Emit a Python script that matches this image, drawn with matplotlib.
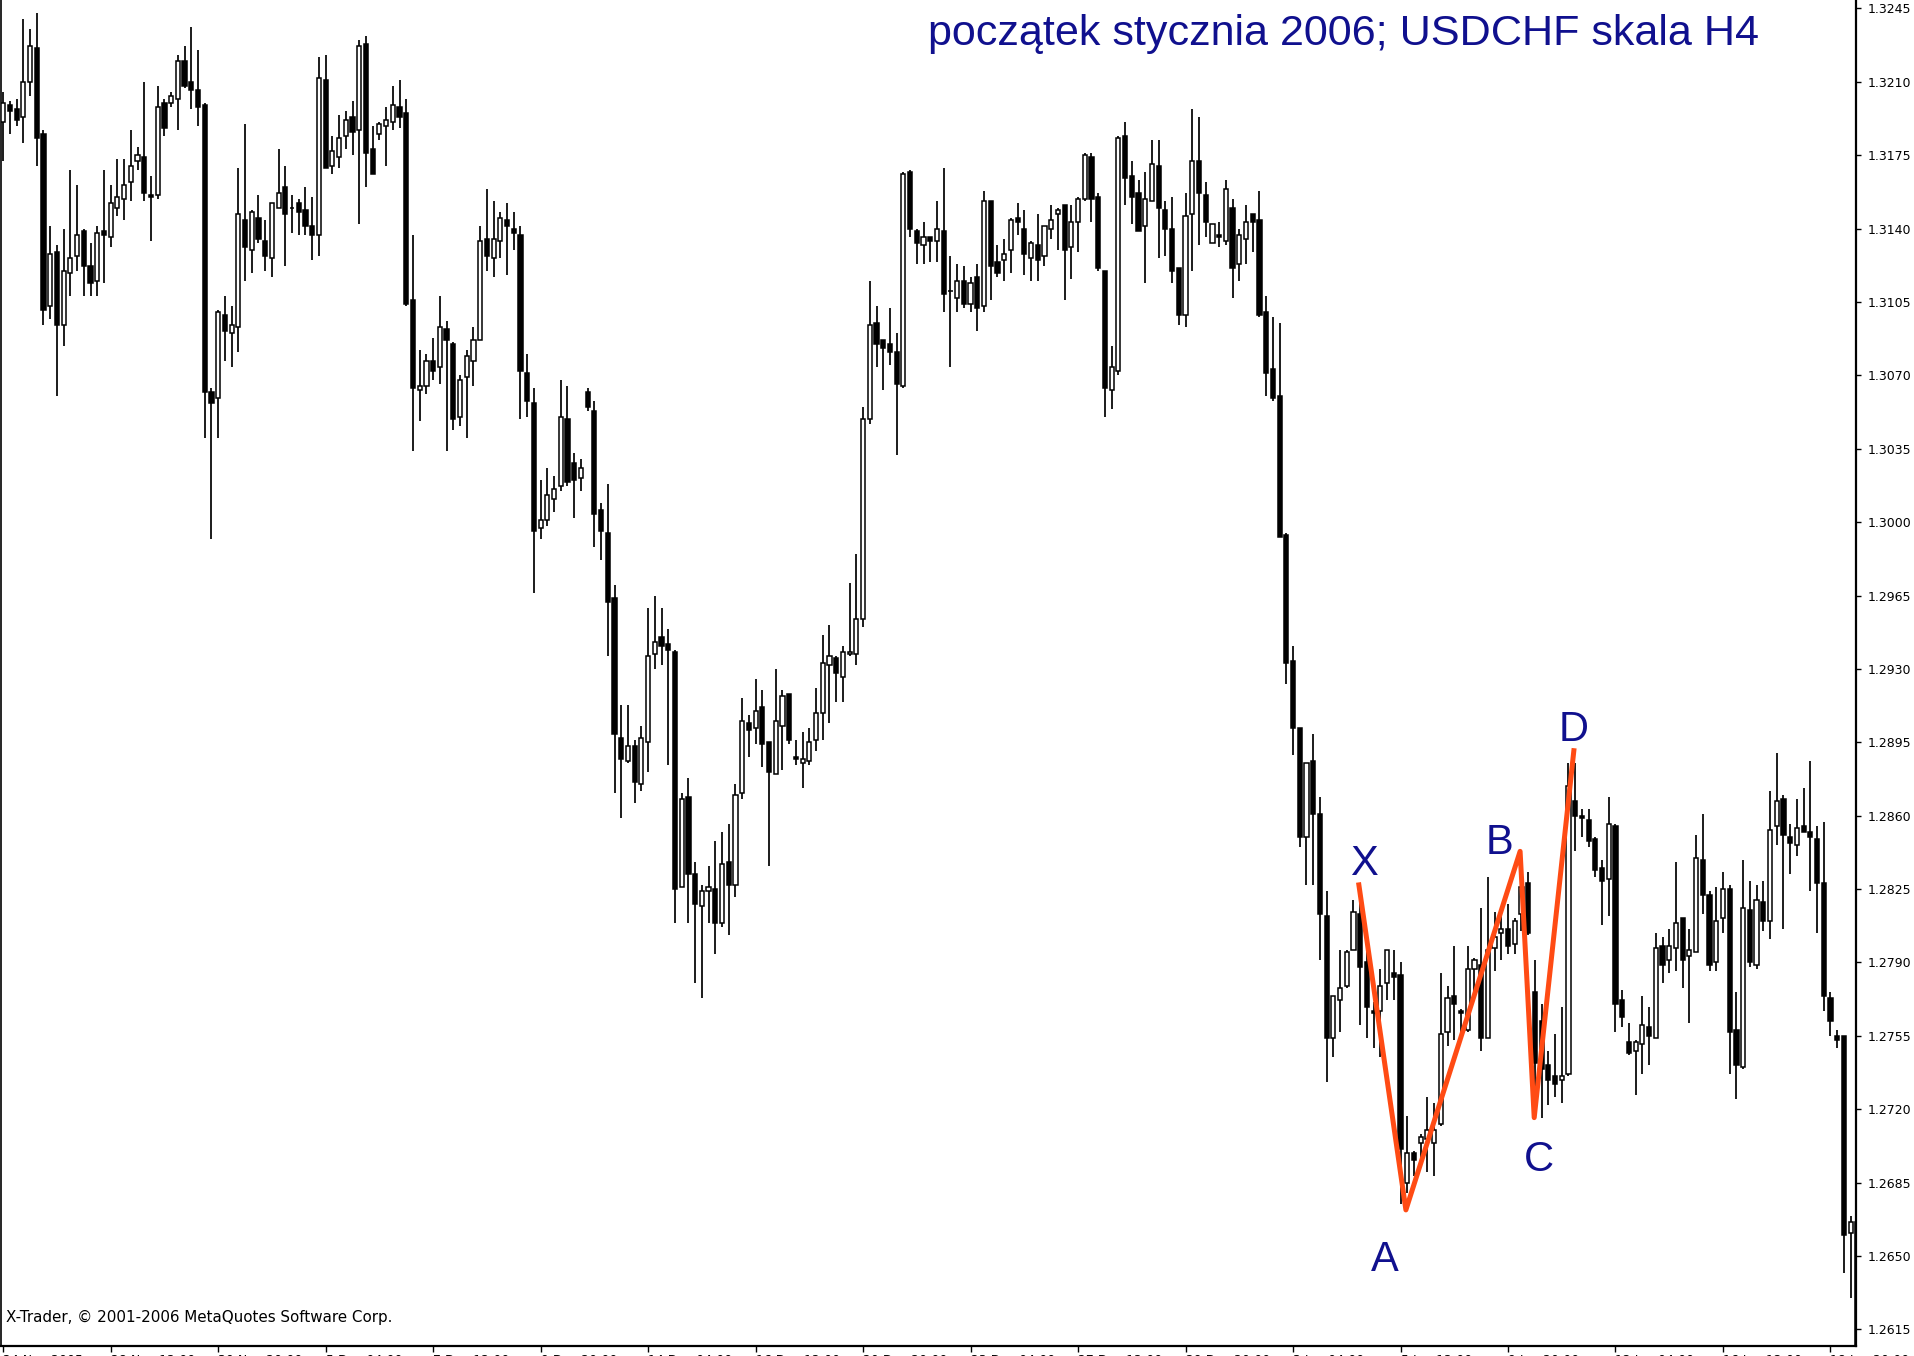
import numpy as np
import matplotlib
matplotlib.use("Agg")
import matplotlib.pyplot as plt

# USDCHF H4 candles
opens = [
    1.3191, 1.3199, 1.3197, 1.3193, 1.3210, 1.3226, 1.3185, 1.3103, 1.3129, 1.3094,
    1.3119, 1.3127, 1.3139, 1.3122, 1.3115, 1.3139, 1.3136, 1.3150, 1.3154, 1.3162,
    1.3172, 1.3174, 1.3156, 1.3156, 1.3200, 1.3200, 1.3202, 1.3220, 1.3210, 1.3206,
    1.3199, 1.3062, 1.3059, 1.3099, 1.3090, 1.3093, 1.3144, 1.3130, 1.3145, 1.3134,
    1.3126, 1.3150, 1.3160, 1.3150, 1.3152, 1.3149, 1.3141, 1.3137, 1.3211, 1.3170,
    1.3174, 1.3184, 1.3193, 1.3187, 1.3228, 1.3178, 1.3185, 1.3189, 1.3191, 1.3198,
    1.3195, 1.3106, 1.3063, 1.3065, 1.3077, 1.3074, 1.3092, 1.3085, 1.3050, 1.3069,
    1.3077, 1.3087, 1.3135, 1.3126, 1.3134, 1.3144, 1.3140, 1.3137, 1.3071, 1.3057,
    1.2997, 1.3001, 1.3011, 1.3017, 1.3049, 1.3028, 1.3021, 1.3062, 1.3053, 1.3006,
    1.2995, 1.2964, 1.2897, 1.2886, 1.2893, 1.2875, 1.2895, 1.2937, 1.2945, 1.2942,
    1.2938, 1.2826, 1.2869, 1.2832, 1.2817, 1.2824, 1.2825, 1.2809, 1.2838, 1.2827,
    1.2871, 1.2904, 1.2902, 1.2912, 1.2895, 1.2880, 1.2903, 1.2918, 1.2888, 1.2885,
    1.2886, 1.2896, 1.2909, 1.2932, 1.2935, 1.2926, 1.2937, 1.2937, 1.2954, 1.3049,
    1.3095, 1.3087, 1.3085, 1.3081, 1.3065, 1.3167, 1.3139, 1.3132, 1.3136, 1.3134,
    1.3139, 1.3110, 1.3107, 1.3115, 1.3104, 1.3117, 1.3103, 1.3153, 1.3124, 1.3125,
    1.3130, 1.3145, 1.3140, 1.3126, 1.3132, 1.3127, 1.3140, 1.3147, 1.3151, 1.3131,
    1.3143, 1.3154, 1.3174, 1.3155, 1.3120, 1.3063, 1.3072, 1.3184, 1.3165, 1.3157,
    1.3141, 1.3153, 1.3170, 1.3149, 1.3140, 1.3121, 1.3099, 1.3147, 1.3172, 1.3156,
    1.3133, 1.3137, 1.3134, 1.3150, 1.3123, 1.3135, 1.3147, 1.3144, 1.3100, 1.3073,
    1.3060, 1.2994, 1.2934, 1.2902, 1.2850, 1.2886, 1.2861, 1.2812, 1.2754, 1.2772,
    1.2779, 1.2796, 1.2813, 1.2790, 1.2767, 1.2767, 1.2780, 1.2785, 1.2784, 1.2685,
    1.2699, 1.2704, 1.2706, 1.2704, 1.2713, 1.2757, 1.2774, 1.2767, 1.2758, 1.2787,
    1.2789, 1.2754, 1.2797, 1.2804, 1.2806, 1.2799, 1.2813, 1.2828, 1.2776, 1.2762,
    1.2741, 1.2736, 1.2734, 1.2737, 1.2867, 1.2860, 1.2858, 1.2849, 1.2835, 1.2830,
    1.2855, 1.2772, 1.2752, 1.2748, 1.2751, 1.2759, 1.2754, 1.2798, 1.2791, 1.2797,
    1.2811, 1.2793, 1.2795, 1.2839, 1.2822, 1.2790, 1.2811, 1.2825, 1.2758, 1.2740,
    1.2815, 1.2789, 1.2819, 1.2810, 1.2855, 1.2868, 1.2850, 1.2846, 1.2855, 1.2852,
    1.2849, 1.2828, 1.2773, 1.2755, 1.2755, 1.2661, 1.2666,
]
highs = [
    1.3205, 1.3201, 1.3202, 1.3240, 1.3235, 1.3243, 1.3187, 1.3141, 1.3132, 1.3140,
    1.3168, 1.3161, 1.3140, 1.3133, 1.3141, 1.3168, 1.3161, 1.3173, 1.3173, 1.3187,
    1.3179, 1.3210, 1.3165, 1.3208, 1.3202, 1.3205, 1.3223, 1.3227, 1.3236, 1.3225,
    1.3200, 1.3064, 1.3101, 1.3108, 1.3103, 1.3169, 1.3190, 1.3149, 1.3156, 1.3144,
    1.3152, 1.3178, 1.3170, 1.3156, 1.3154, 1.3160, 1.3155, 1.3222, 1.3223, 1.3184,
    1.3194, 1.3196, 1.3201, 1.3230, 1.3232, 1.3189, 1.3191, 1.3198, 1.3208, 1.3211,
    1.3202, 1.3137, 1.3082, 1.3080, 1.3088, 1.3108, 1.3096, 1.3086, 1.3070, 1.3082,
    1.3093, 1.3141, 1.3159, 1.3153, 1.3148, 1.3152, 1.3148, 1.3141, 1.3080, 1.3064,
    1.3020, 1.3026, 1.3022, 1.3068, 1.3065, 1.3033, 1.3030, 1.3064, 1.3058, 1.3009,
    1.3018, 1.2970, 1.2913, 1.2913, 1.2896, 1.2903, 1.2959, 1.2965, 1.2959, 1.2949,
    1.2939, 1.2871, 1.2878, 1.2838, 1.2827, 1.2836, 1.2848, 1.2852, 1.2856, 1.2875,
    1.2916, 1.2908, 1.2925, 1.2920, 1.2895, 1.2930, 1.2920, 1.2918, 1.2896, 1.2900,
    1.2902, 1.2921, 1.2946, 1.2951, 1.2936, 1.2941, 1.2971, 1.2985, 1.3055, 1.3115,
    1.3103, 1.3087, 1.3102, 1.3090, 1.3167, 1.3168, 1.3140, 1.3143, 1.3136, 1.3153,
    1.3169, 1.3127, 1.3123, 1.3122, 1.3117, 1.3123, 1.3158, 1.3153, 1.3132, 1.3135,
    1.3145, 1.3152, 1.3149, 1.3134, 1.3147, 1.3141, 1.3151, 1.3150, 1.3151, 1.3151,
    1.3155, 1.3176, 1.3176, 1.3157, 1.3120, 1.3084, 1.3184, 1.3191, 1.3172, 1.3163,
    1.3167, 1.3182, 1.3182, 1.3153, 1.3155, 1.3121, 1.3157, 1.3197, 1.3193, 1.3162,
    1.3142, 1.3143, 1.3163, 1.3154, 1.3140, 1.3151, 1.3147, 1.3158, 1.3108, 1.3098,
    1.3095, 1.2995, 1.2941, 1.2902, 1.2885, 1.2899, 1.2869, 1.2824, 1.2774, 1.2796,
    1.2796, 1.2820, 1.2819, 1.2796, 1.2771, 1.2787, 1.2796, 1.2796, 1.2790, 1.2717,
    1.2700, 1.2708, 1.2726, 1.2723, 1.2785, 1.2779, 1.2798, 1.2768, 1.2798, 1.2792,
    1.2816, 1.2831, 1.2814, 1.2816, 1.2818, 1.2811, 1.2840, 1.2833, 1.2791, 1.2770,
    1.2748, 1.2756, 1.2769, 1.2885, 1.2885, 1.2863, 1.2863, 1.2850, 1.2839, 1.2869,
    1.2856, 1.2777, 1.2761, 1.2753, 1.2774, 1.2769, 1.2804, 1.2802, 1.2806, 1.2838,
    1.2811, 1.2806, 1.2851, 1.2861, 1.2824, 1.2826, 1.2833, 1.2827, 1.2776, 1.2839,
    1.2829, 1.2827, 1.2829, 1.2872, 1.2890, 1.2870, 1.2856, 1.2868, 1.2873, 1.2886,
    1.2855, 1.2857, 1.2776, 1.2758, 1.2755, 1.2669, 1.2669,
]
lows = [
    1.3172, 1.3185, 1.3189, 1.3181, 1.3203, 1.3170, 1.3094, 1.3097, 1.3060, 1.3084,
    1.3108, 1.3120, 1.3108, 1.3108, 1.3108, 1.3114, 1.3131, 1.3146, 1.3144, 1.3153,
    1.3168, 1.3153, 1.3134, 1.3154, 1.3184, 1.3198, 1.3187, 1.3207, 1.3197, 1.3189,
    1.3040, 1.2992, 1.3040, 1.3077, 1.3074, 1.3081, 1.3115, 1.3119, 1.3133, 1.3120,
    1.3117, 1.3150, 1.3122, 1.3138, 1.3137, 1.3137, 1.3125, 1.3127, 1.3169, 1.3166,
    1.3169, 1.3178, 1.3175, 1.3142, 1.3160, 1.3166, 1.3182, 1.3170, 1.3187, 1.3188,
    1.3103, 1.3034, 1.3048, 1.3061, 1.3068, 1.3066, 1.3034, 1.3044, 1.3046, 1.3040,
    1.3065, 1.3087, 1.3120, 1.3117, 1.3126, 1.3118, 1.3130, 1.3049, 1.3050, 1.2966,
    1.2992, 1.2998, 1.3005, 1.3015, 1.3017, 1.3002, 1.3015, 1.3053, 1.2988, 1.2982,
    1.2936, 1.2871, 1.2859, 1.2885, 1.2866, 1.2872, 1.2881, 1.2930, 1.2932, 1.2884,
    1.2809, 1.2826, 1.2809, 1.2780, 1.2773, 1.2809, 1.2794, 1.2807, 1.2803, 1.2821,
    1.2868, 1.2888, 1.2894, 1.2883, 1.2836, 1.2880, 1.2882, 1.2894, 1.2884, 1.2873,
    1.2884, 1.2891, 1.2896, 1.2904, 1.2914, 1.2914, 1.2936, 1.2932, 1.2950, 1.3047,
    1.3074, 1.3063, 1.3075, 1.3032, 1.3064, 1.3136, 1.3123, 1.3123, 1.3124, 1.3124,
    1.3100, 1.3074, 1.3100, 1.3102, 1.3100, 1.3091, 1.3100, 1.3106, 1.3117, 1.3115,
    1.3119, 1.3137, 1.3118, 1.3115, 1.3115, 1.3122, 1.3135, 1.3130, 1.3106, 1.3116,
    1.3129, 1.3153, 1.3143, 1.3120, 1.3050, 1.3054, 1.3070, 1.3151, 1.3142, 1.3139,
    1.3114, 1.3153, 1.3126, 1.3127, 1.3114, 1.3094, 1.3093, 1.3120, 1.3132, 1.3136,
    1.3133, 1.3131, 1.3132, 1.3107, 1.3115, 1.3123, 1.3129, 1.3098, 1.3060, 1.3058,
    1.2993, 1.2923, 1.2889, 1.2845, 1.2827, 1.2827, 1.2791, 1.2733, 1.2745, 1.2757,
    1.2778, 1.2796, 1.2760, 1.2754, 1.2749, 1.2745, 1.2772, 1.2772, 1.2675, 1.2680,
    1.2688, 1.2696, 1.2690, 1.2688, 1.2712, 1.2750, 1.2753, 1.2757, 1.2757, 1.2776,
    1.2748, 1.2754, 1.2786, 1.2791, 1.2794, 1.2794, 1.2805, 1.2803, 1.2718, 1.2716,
    1.2722, 1.2726, 1.2723, 1.2736, 1.2843, 1.2850, 1.2845, 1.2831, 1.2808, 1.2812,
    1.2757, 1.2759, 1.2746, 1.2727, 1.2737, 1.2741, 1.2754, 1.2780, 1.2785, 1.2786,
    1.2778, 1.2761, 1.2795, 1.2813, 1.2786, 1.2786, 1.2804, 1.2737, 1.2725, 1.2739,
    1.2788, 1.2787, 1.2805, 1.2801, 1.2846, 1.2806, 1.2832, 1.2841, 1.2852, 1.2824,
    1.2804, 1.2767, 1.2755, 1.2749, 1.2642, 1.2630, 1.2595,
]
closes = [
    1.3200, 1.3196, 1.3192, 1.3210, 1.3227, 1.3183, 1.3101, 1.3128, 1.3094, 1.3120,
    1.3126, 1.3137, 1.3122, 1.3114, 1.3138, 1.3137, 1.3152, 1.3155, 1.3161, 1.3170,
    1.3175, 1.3157, 1.3155, 1.3198, 1.3188, 1.3203, 1.3220, 1.3208, 1.3206, 1.3198,
    1.3062, 1.3057, 1.3100, 1.3091, 1.3094, 1.3147, 1.3131, 1.3148, 1.3135, 1.3127,
    1.3152, 1.3157, 1.3147, 1.3150, 1.3148, 1.3141, 1.3137, 1.3212, 1.3169, 1.3177,
    1.3183, 1.3192, 1.3186, 1.3227, 1.3176, 1.3166, 1.3190, 1.3192, 1.3199, 1.3193,
    1.3104, 1.3064, 1.3065, 1.3077, 1.3072, 1.3093, 1.3087, 1.3049, 1.3068, 1.3079,
    1.3087, 1.3134, 1.3127, 1.3135, 1.3145, 1.3141, 1.3138, 1.3072, 1.3058, 1.2996,
    1.3001, 1.3013, 1.3016, 1.3050, 1.3019, 1.3020, 1.3026, 1.3055, 1.3004, 1.2996,
    1.2962, 1.2899, 1.2887, 1.2893, 1.2876, 1.2897, 1.2936, 1.2943, 1.2941, 1.2939,
    1.2825, 1.2868, 1.2832, 1.2818, 1.2824, 1.2826, 1.2809, 1.2837, 1.2827, 1.2870,
    1.2905, 1.2901, 1.2910, 1.2894, 1.2881, 1.2905, 1.2917, 1.2896, 1.2887, 1.2887,
    1.2895, 1.2909, 1.2933, 1.2936, 1.2928, 1.2938, 1.2938, 1.2954, 1.3049, 1.3094,
    1.3085, 1.3083, 1.3081, 1.3066, 1.3166, 1.3140, 1.3133, 1.3136, 1.3134, 1.3140,
    1.3109, 1.3110, 1.3115, 1.3104, 1.3114, 1.3102, 1.3153, 1.3122, 1.3119, 1.3128,
    1.3144, 1.3143, 1.3128, 1.3133, 1.3125, 1.3141, 1.3144, 1.3149, 1.3130, 1.3143,
    1.3154, 1.3175, 1.3154, 1.3121, 1.3064, 1.3074, 1.3183, 1.3164, 1.3155, 1.3139,
    1.3154, 1.3171, 1.3150, 1.3140, 1.3120, 1.3099, 1.3146, 1.3172, 1.3157, 1.3143,
    1.3142, 1.3136, 1.3159, 1.3121, 1.3137, 1.3143, 1.3143, 1.3099, 1.3071, 1.3059,
    1.2993, 1.2933, 1.2902, 1.2850, 1.2885, 1.2861, 1.2813, 1.2754, 1.2774, 1.2778,
    1.2795, 1.2814, 1.2788, 1.2769, 1.2766, 1.2779, 1.2796, 1.2783, 1.2701, 1.2699,
    1.2696, 1.2707, 1.2710, 1.2710, 1.2756, 1.2773, 1.2770, 1.2766, 1.2787, 1.2791,
    1.2754, 1.2796, 1.2802, 1.2806, 1.2798, 1.2810, 1.2826, 1.2804, 1.2742, 1.2739,
    1.2734, 1.2732, 1.2736, 1.2874, 1.2860, 1.2859, 1.2848, 1.2834, 1.2829, 1.2856,
    1.2770, 1.2764, 1.2747, 1.2752, 1.2760, 1.2755, 1.2797, 1.2789, 1.2798, 1.2809,
    1.2791, 1.2796, 1.2840, 1.2822, 1.2789, 1.2810, 1.2825, 1.2757, 1.2741, 1.2816,
    1.2790, 1.2820, 1.2810, 1.2853, 1.2867, 1.2851, 1.2847, 1.2854, 1.2852, 1.2850,
    1.2828, 1.2774, 1.2762, 1.2753, 1.2660, 1.2666, 1.2600,
]

# skala cen po prawej
price_ticks = [1.2615, 1.2650, 1.2685, 1.2720, 1.2755, 1.2790, 1.2825, 1.2860, 1.2895,
               1.2930, 1.2965, 1.3000, 1.3035, 1.3070, 1.3105, 1.3140, 1.3175, 1.3210, 1.3245]

# os czasu - co 16 swiec
time_tick_bars = [0, 16, 32, 48, 64, 80, 96, 112, 128, 144, 160, 176, 192, 208, 224, 240, 256, 272]
time_tick_labels = ["24 Nov 2005", "28 Nov 12:00", "30 Nov 20:00", "5 Dec 04:00", "7 Dec 12:00",
                    "9 Dec 20:00", "14 Dec 04:00", "16 Dec 12:00", "20 Dec 20:00", "23 Dec 04:00",
                    "27 Dec 12:00", "29 Dec 20:00", "3 Jan 04:00", "5 Jan 12:00", "9 Jan 20:00",
                    "12 Jan 04:00", "16 Jan 12:00", "18 Jan 20:00"]

# formacja XABCD
pattern_bars = [201.8, 208.8, 225.8, 227.9, 233.8]
pattern_prices = [1.2827, 1.2672, 1.2843, 1.2716, 1.2891]
pattern_names = ["X", "A", "B", "C", "D"]
label_bars = [202.6, 205.6, 222.8, 228.6, 233.7]
label_prices = [1.2837, 1.2648, 1.2847, 1.2696, 1.2901]

W, H = 1915, 1356
fig = plt.figure(figsize=(W / 100, H / 100), dpi=100)
ax = fig.add_axes([0.5 / W, 10 / H, 1855.5 / W, 1 - 10 / H])

o = np.array(opens)
h = np.array(highs)
l = np.array(lows)
c = np.array(closes)
x = np.arange(len(o))
bull = c >= o

ax.vlines(x, l, h, color="black", lw=1.25, zorder=2)
ax.bar(x[bull], (c - o)[bull], bottom=o[bull], width=0.62,
       facecolor="white", edgecolor="black", lw=1.1, zorder=3)
ax.bar(x[~bull], (o - c)[~bull], bottom=c[~bull], width=0.62,
       facecolor="black", edgecolor="black", lw=1.1, zorder=3)

navy = "#10108e"
ax.plot(pattern_bars, pattern_prices, color="#ff4b14", lw=3.6, zorder=5)
for bx, py, name in zip(label_bars, label_prices, pattern_names):
    ax.text(bx, py, name, color=navy, fontsize=30, ha="center", va="center",
            family="Liberation Sans", zorder=6)

ax.set_xlim(-0.4, 275.8)
ax.set_ylim(1.26071, 1.32490)

ax.spines["top"].set_visible(False)
ax.spines["left"].set_linewidth(1.2)
ax.spines["right"].set_linewidth(1.6)
ax.spines["bottom"].set_linewidth(1.6)

ax.yaxis.tick_right()
ax.set_yticks(price_ticks)
ax.set_yticklabels([f"{p:.4f}" for p in price_ticks])
ax.tick_params(axis="y", direction="out", length=3.5, width=1.0, pad=5, labelsize=9)
ax.set_xticks(time_tick_bars)
ax.set_xticklabels(time_tick_labels, ha="left")
ax.tick_params(axis="x", direction="out", length=4, width=1.0, pad=1.5, labelsize=9)

title = fig.text(1343.5 / W, 1 - 45 / H, "początek stycznia 2006; USDCHF skala H4",
                 color=navy, fontsize=31, ha="center", va="baseline", family="Liberation Sans")
copy = fig.text(6 / W, 1 - 1322 / H, "X-Trader, © 2001-2006 MetaQuotes Software Corp.",
                color="black", fontsize=11, ha="left", va="baseline", family="DejaVu Sans")

# dopasowanie szerokosci napisow do oryginalu
renderer = fig.canvas.get_renderer()
for t, target in [(title, 831), (copy, 387)]:
    w = t.get_window_extent(renderer=renderer).width
    t.set_fontsize(t.get_fontsize() * target / w)

fig.savefig("out.png", dpi=100, facecolor="white")
